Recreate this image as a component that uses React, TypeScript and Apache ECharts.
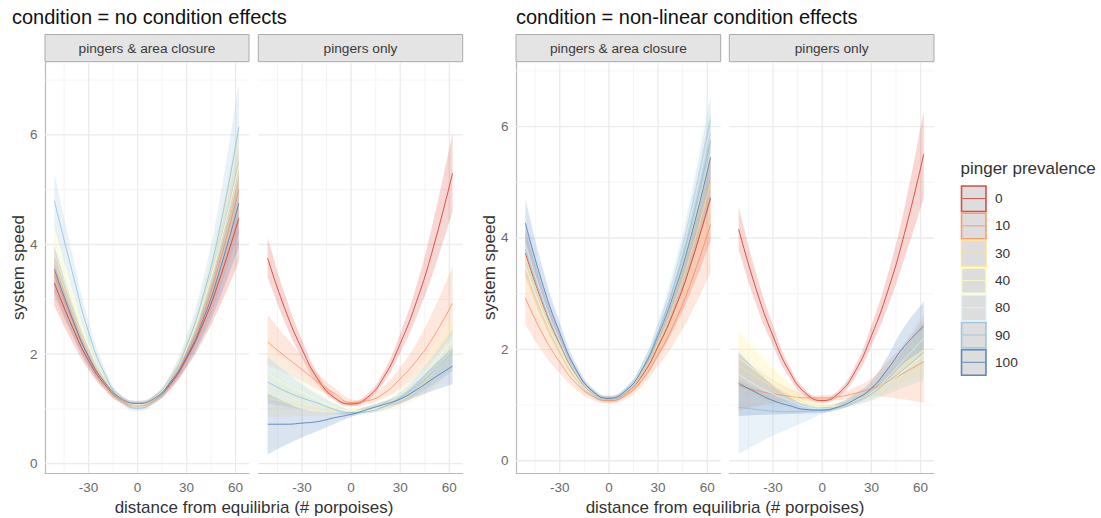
import React, { useEffect, useRef } from "react";
import * as echarts from "echarts";

// distance from equilibria at which each fitted curve is sampled
const distance = [-51, -40, -30, -20, -10, 0, 10, 20, 30, 40, 50, 62];
const prevalence = ["0", "10", "30", "40", "80", "90", "100"];
const prevalenceColors = ["#d73027", "#fc8d59", "#fee090", "#ffffbf", "#e0f3f8", "#91bfdb", "#4575b4"];
const xMajor = [-30, 0, 30, 60];
const xMinor = [-45, -15, 15, 45];
const yMajor = [0, 2, 4, 6];
const yMinor = [1, 3, 5, 7];
const conditionTitles = ["condition = no condition effects", "condition = non-linear condition effects"];
const managementLabels = ["pingers & area closure", "pingers only"];

// no condition effects, pingers & area closure (rows follow prevalence)
const ncClosureFit = [
  [3.30, 2.50, 1.88, 1.44, 1.17, 1.08, 1.17, 1.45, 1.92, 2.55, 3.35, 4.48],
  [3.45, 2.62, 1.95, 1.46, 1.16, 1.06, 1.16, 1.48, 2.00, 2.70, 3.65, 5.00],
  [3.70, 2.80, 2.05, 1.50, 1.17, 1.06, 1.17, 1.51, 2.08, 2.85, 3.85, 5.30],
  [4.05, 3.00, 2.15, 1.56, 1.20, 1.08, 1.20, 1.54, 2.12, 2.92, 3.95, 5.45],
  [3.85, 2.90, 2.12, 1.54, 1.20, 1.08, 1.19, 1.53, 2.10, 2.90, 3.95, 5.40],
  [4.80, 3.50, 2.40, 1.63, 1.16, 1.01, 1.14, 1.52, 2.15, 3.05, 4.25, 6.15],
  [3.55, 2.65, 1.95, 1.48, 1.19, 1.10, 1.19, 1.48, 1.95, 2.62, 3.50, 4.75],
];
const ncClosureLo = [
  [2.88, 2.22, 1.71, 1.34, 1.11, 1.03, 1.11, 1.35, 1.75, 2.25, 2.85, 3.68],
  [3.03, 2.34, 1.78, 1.36, 1.10, 1.01, 1.10, 1.38, 1.83, 2.40, 3.15, 4.20],
  [3.28, 2.52, 1.88, 1.40, 1.11, 1.01, 1.11, 1.41, 1.91, 2.55, 3.35, 4.50],
  [3.63, 2.72, 1.98, 1.46, 1.14, 1.03, 1.14, 1.44, 1.95, 2.62, 3.45, 4.65],
  [3.43, 2.62, 1.95, 1.44, 1.14, 1.03, 1.13, 1.43, 1.93, 2.60, 3.45, 4.60],
  [4.30, 3.17, 2.20, 1.52, 1.10, 0.96, 1.08, 1.41, 1.97, 2.74, 3.73, 5.35],
  [3.13, 2.37, 1.78, 1.38, 1.13, 1.05, 1.13, 1.38, 1.78, 2.32, 3.00, 3.95],
];
const ncClosureHi = [
  [3.72, 2.78, 2.05, 1.54, 1.23, 1.13, 1.23, 1.55, 2.09, 2.85, 3.85, 5.28],
  [3.87, 2.90, 2.12, 1.56, 1.22, 1.11, 1.22, 1.58, 2.17, 3.00, 4.15, 5.80],
  [4.12, 3.08, 2.22, 1.60, 1.23, 1.11, 1.23, 1.61, 2.25, 3.15, 4.35, 6.10],
  [4.47, 3.28, 2.32, 1.66, 1.26, 1.13, 1.26, 1.64, 2.29, 3.22, 4.45, 6.25],
  [4.27, 3.18, 2.29, 1.64, 1.26, 1.13, 1.25, 1.63, 2.27, 3.20, 4.45, 6.20],
  [5.30, 3.83, 2.60, 1.74, 1.22, 1.06, 1.20, 1.63, 2.33, 3.36, 4.77, 6.95],
  [3.97, 2.93, 2.12, 1.58, 1.25, 1.15, 1.25, 1.58, 2.12, 2.92, 4.00, 5.55],
];

// no condition effects, pingers only
const ncOnlyFit = [
  [3.75, 2.79, 2.09, 1.53, 1.20, 1.09, 1.21, 1.58, 2.19, 2.96, 3.92, 5.30],
  [2.22, 1.95, 1.72, 1.48, 1.28, 1.12, 1.15, 1.28, 1.55, 1.88, 2.30, 2.93],
  [1.20, 1.12, 1.06, 1.00, 0.96, 0.95, 0.97, 1.03, 1.15, 1.35, 1.65, 2.10],
  [1.65, 1.45, 1.30, 1.16, 1.03, 0.97, 0.99, 1.08, 1.25, 1.50, 1.82, 2.25],
  [1.60, 1.42, 1.28, 1.14, 1.01, 0.95, 0.97, 1.06, 1.20, 1.42, 1.70, 2.05],
  [1.49, 1.32, 1.20, 1.10, 0.99, 0.93, 0.95, 1.04, 1.20, 1.42, 1.68, 2.05],
  [0.72, 0.72, 0.74, 0.77, 0.84, 0.90, 0.99, 1.08, 1.18, 1.35, 1.55, 1.78],
];
const ncOnlyLo = [
  [3.40, 2.55, 1.93, 1.44, 1.15, 1.05, 1.16, 1.48, 2.02, 2.68, 3.48, 4.60],
  [1.80, 1.65, 1.50, 1.35, 1.19, 1.06, 1.09, 1.20, 1.36, 1.60, 1.90, 2.35],
  [0.85, 0.86, 0.87, 0.88, 0.89, 0.90, 0.92, 0.96, 1.04, 1.18, 1.38, 1.70],
  [1.20, 1.12, 1.06, 1.00, 0.95, 0.92, 0.95, 1.00, 1.12, 1.30, 1.52, 1.85],
  [1.15, 1.08, 1.03, 0.98, 0.93, 0.90, 0.93, 0.98, 1.08, 1.24, 1.44, 1.70],
  [1.10, 1.04, 0.99, 0.95, 0.91, 0.88, 0.91, 0.98, 1.10, 1.26, 1.44, 1.70],
  [0.17, 0.34, 0.48, 0.60, 0.73, 0.85, 0.95, 1.03, 1.10, 1.22, 1.33, 1.45],
];
const ncOnlyHi = [
  [4.12, 3.05, 2.26, 1.63, 1.26, 1.13, 1.27, 1.68, 2.37, 3.25, 4.40, 6.02],
  [2.72, 2.32, 1.97, 1.63, 1.38, 1.18, 1.22, 1.42, 1.76, 2.20, 2.78, 3.60],
  [1.70, 1.48, 1.30, 1.16, 1.05, 1.00, 1.03, 1.12, 1.28, 1.55, 1.98, 2.60],
  [2.15, 1.85, 1.60, 1.36, 1.15, 1.02, 1.05, 1.18, 1.40, 1.72, 2.15, 2.70],
  [2.10, 1.82, 1.57, 1.33, 1.12, 1.00, 1.03, 1.15, 1.34, 1.62, 1.98, 2.45],
  [1.95, 1.68, 1.45, 1.26, 1.10, 0.98, 1.01, 1.12, 1.31, 1.60, 1.96, 2.45],
  [1.28, 1.12, 1.00, 0.95, 0.93, 0.96, 1.05, 1.14, 1.26, 1.50, 1.78, 2.12],
];

// non-linear condition effects, pingers & area closure
const nlClosureFit = [
  [3.73, 2.78, 2.09, 1.54, 1.21, 1.10, 1.21, 1.52, 2.05, 2.71, 3.53, 4.72],
  [2.92, 2.25, 1.77, 1.39, 1.16, 1.08, 1.17, 1.44, 1.90, 2.48, 3.20, 4.24],
  [3.67, 2.74, 2.06, 1.53, 1.21, 1.10, 1.21, 1.55, 2.12, 2.83, 3.72, 5.00],
  [3.50, 2.63, 2.00, 1.50, 1.20, 1.10, 1.23, 1.61, 2.25, 3.05, 4.06, 5.50],
  [3.90, 2.89, 2.15, 1.57, 1.22, 1.10, 1.24, 1.67, 2.38, 3.28, 4.39, 6.00],
  [3.80, 2.82, 2.11, 1.55, 1.21, 1.10, 1.23, 1.64, 2.31, 3.16, 4.22, 5.75],
  [4.27, 3.13, 2.30, 1.64, 1.25, 1.12, 1.25, 1.62, 2.25, 3.04, 4.03, 5.45],
];
const nlClosureLo = [
  [3.31, 2.50, 1.91, 1.44, 1.15, 1.05, 1.15, 1.42, 1.87, 2.39, 3.03, 3.94],
  [2.44, 1.93, 1.57, 1.28, 1.09, 1.03, 1.10, 1.33, 1.70, 2.12, 2.64, 3.38],
  [3.25, 2.46, 1.88, 1.43, 1.15, 1.05, 1.15, 1.45, 1.94, 2.51, 3.22, 4.22],
  [3.08, 2.35, 1.82, 1.40, 1.14, 1.05, 1.17, 1.51, 2.07, 2.73, 3.56, 4.72],
  [3.48, 2.61, 1.97, 1.47, 1.16, 1.05, 1.18, 1.57, 2.20, 2.96, 3.89, 5.22],
  [3.38, 2.54, 1.93, 1.45, 1.15, 1.05, 1.17, 1.54, 2.13, 2.84, 3.72, 4.97],
  [3.85, 2.85, 2.12, 1.54, 1.19, 1.07, 1.19, 1.52, 2.07, 2.72, 3.53, 4.67],
];
const nlClosureHi = [
  [4.15, 3.06, 2.27, 1.64, 1.27, 1.15, 1.27, 1.62, 2.23, 3.03, 4.03, 5.50],
  [3.40, 2.57, 1.97, 1.50, 1.23, 1.13, 1.24, 1.55, 2.10, 2.84, 3.76, 5.10],
  [4.09, 3.02, 2.24, 1.63, 1.27, 1.15, 1.27, 1.65, 2.30, 3.15, 4.22, 5.78],
  [3.92, 2.91, 2.18, 1.60, 1.26, 1.15, 1.29, 1.71, 2.43, 3.37, 4.56, 6.28],
  [4.32, 3.17, 2.33, 1.67, 1.28, 1.15, 1.30, 1.77, 2.56, 3.60, 4.89, 6.83],
  [4.22, 3.10, 2.29, 1.65, 1.27, 1.15, 1.29, 1.74, 2.49, 3.48, 4.72, 6.53],
  [4.69, 3.41, 2.48, 1.74, 1.31, 1.17, 1.31, 1.72, 2.43, 3.36, 4.53, 6.23],
];

// non-linear condition effects, pingers only
const nlOnlyFit = [
  [4.16, 3.05, 2.24, 1.60, 1.21, 1.08, 1.21, 1.60, 2.24, 3.05, 4.06, 5.51],
  [1.35, 1.26, 1.20, 1.16, 1.13, 1.13, 1.15, 1.21, 1.30, 1.42, 1.58, 1.78],
  [1.72, 1.50, 1.33, 1.18, 1.04, 0.99, 1.00, 1.08, 1.22, 1.45, 1.70, 2.00],
  [1.85, 1.60, 1.40, 1.22, 1.05, 0.98, 0.98, 1.06, 1.20, 1.40, 1.62, 1.90],
  [1.55, 1.35, 1.20, 1.08, 0.97, 0.93, 0.97, 1.07, 1.22, 1.50, 1.82, 2.20],
  [0.96, 0.92, 0.89, 0.88, 0.89, 0.91, 0.96, 1.06, 1.20, 1.42, 1.65, 1.95],
  [1.39, 1.22, 1.08, 0.99, 0.92, 0.91, 0.97, 1.10, 1.30, 1.65, 2.05, 2.42],
];
const nlOnlyLo = [
  [3.78, 2.78, 2.06, 1.49, 1.15, 1.04, 1.15, 1.49, 2.06, 2.76, 3.62, 4.72],
  [0.90, 0.98, 1.03, 1.06, 1.07, 1.08, 1.09, 1.12, 1.15, 1.14, 1.10, 1.04],
  [1.22, 1.14, 1.08, 1.03, 0.98, 0.94, 0.95, 1.00, 1.10, 1.25, 1.40, 1.55],
  [1.35, 1.25, 1.15, 1.07, 0.99, 0.93, 0.94, 1.00, 1.08, 1.20, 1.32, 1.45],
  [1.12, 1.04, 0.98, 0.94, 0.90, 0.88, 0.92, 1.00, 1.10, 1.30, 1.52, 1.78],
  [0.12, 0.30, 0.45, 0.58, 0.71, 0.84, 0.92, 1.00, 1.08, 1.20, 1.32, 1.45],
  [0.80, 0.82, 0.83, 0.84, 0.85, 0.86, 0.92, 1.03, 1.18, 1.45, 1.75, 2.00],
];
const nlOnlyHi = [
  [4.55, 3.33, 2.43, 1.70, 1.27, 1.12, 1.27, 1.70, 2.43, 3.35, 4.52, 6.28],
  [1.90, 1.65, 1.45, 1.30, 1.20, 1.18, 1.22, 1.32, 1.48, 1.78, 2.10, 2.60],
  [2.30, 1.95, 1.65, 1.38, 1.12, 1.04, 1.06, 1.17, 1.36, 1.68, 2.05, 2.50],
  [2.42, 2.05, 1.72, 1.43, 1.14, 1.03, 1.04, 1.14, 1.34, 1.62, 1.95, 2.40],
  [2.05, 1.72, 1.46, 1.23, 1.06, 0.98, 1.03, 1.15, 1.36, 1.72, 2.15, 2.70],
  [1.45, 1.30, 1.18, 1.08, 1.02, 0.98, 1.03, 1.14, 1.32, 1.65, 2.00, 2.50],
  [1.95, 1.62, 1.35, 1.15, 1.00, 0.96, 1.04, 1.20, 1.43, 1.88, 2.40, 2.86],
];

const FONT = '"Liberation Sans", Arial, Helvetica, sans-serif';
const PANEL_TOP = 62;
const PANEL_HEIGHT = 411;
const X_RANGE = [-56.7, 68.2];
const Y_RANGES = [
  [-0.17, 7.33],
  [-0.22, 7.16],
];

type Panel = {
  left: number;
  width: number;
  cond: number;
  strip: number;
  first: boolean;
  fit: number[][];
  lo: number[][];
  hi: number[][];
};

const panels: Panel[] = [
  { left: 45, width: 204, cond: 0, strip: 0, first: true, fit: ncClosureFit, lo: ncClosureLo, hi: ncClosureHi },
  { left: 258.3, width: 204.4, cond: 0, strip: 1, first: false, fit: ncOnlyFit, lo: ncOnlyLo, hi: ncOnlyHi },
  { left: 516, width: 204.7, cond: 1, strip: 0, first: true, fit: nlClosureFit, lo: nlClosureLo, hi: nlClosureHi },
  { left: 729.3, width: 204.7, cond: 1, strip: 1, first: false, fit: nlOnlyFit, lo: nlOnlyLo, hi: nlOnlyHi },
];

function rgba(hex: string, a: number): string {
  const n = parseInt(hex.slice(1), 16);
  return `rgba(${(n >> 16) & 255},${(n >> 8) & 255},${n & 255},${a})`;
}

// Bezier segments through pixel points, same control-point rule as a smoothed line series.
function curvePath(pts: number[][], start: "M" | "L", s = 0.5): string {
  const n = pts.length;
  const cps = pts.map((p, i) => {
    const prev = pts[Math.max(i - 1, 0)];
    const next = pts[Math.min(i + 1, n - 1)];
    const vx = next[0] - prev[0];
    const vy = next[1] - prev[1];
    const d0 = Math.hypot(p[0] - prev[0], p[1] - prev[1]);
    const d1 = Math.hypot(next[0] - p[0], next[1] - p[1]);
    const sum = d0 + d1 || 1;
    return {
      inX: p[0] - (vx * s * d0) / sum,
      inY: p[1] - (vy * s * d0) / sum,
      outX: p[0] + (vx * s * d1) / sum,
      outY: p[1] + (vy * s * d1) / sum,
    };
  });
  let d = `${start}${pts[0][0]},${pts[0][1]}`;
  for (let i = 0; i < n - 1; i++) {
    d += ` C${cps[i].outX},${cps[i].outY} ${cps[i + 1].inX},${cps[i + 1].inY} ${pts[i + 1][0]},${pts[i + 1][1]}`;
  }
  return d;
}

function buildOption() {
  const grid: any[] = [];
  const xAxis: any[] = [];
  const yAxis: any[] = [];
  const series: any[] = [];
  const graphic: any[] = [];

  const labelStyle = { color: "#6b6b6b", fontSize: 13.5, fontFamily: FONT };
  const axisLineStyle = { color: "#b9b9b9", width: 1.2 };

  panels.forEach((p, g) => {
    const [yMin, yMax] = Y_RANGES[p.cond];
    grid.push({ left: p.left, top: PANEL_TOP, width: p.width, height: PANEL_HEIGHT, containLabel: false });
    xAxis.push({
      gridIndex: g,
      type: "value",
      min: X_RANGE[0],
      max: X_RANGE[1],
      axisLine: { show: true, onZero: false, lineStyle: axisLineStyle },
      axisTick: { show: false },
      splitLine: { show: false },
      axisLabel: { ...labelStyle, margin: 7, customValues: xMajor },
    });
    yAxis.push({
      gridIndex: g,
      type: "value",
      min: yMin,
      max: yMax,
      axisLine: { show: p.first, onZero: false, lineStyle: axisLineStyle },
      axisTick: { show: false },
      splitLine: { show: false },
      axisLabel: { ...labelStyle, show: p.first, margin: 7.5, customValues: yMajor },
    });

    // panel grid: minor lines first, then major lines
    const gridLine = (data: number[][], color: string, width: number) => ({
      type: "line",
      xAxisIndex: g,
      yAxisIndex: g,
      data,
      symbol: "none",
      silent: true,
      z: 1,
      lineStyle: { color, width },
    });
    xMinor.forEach((v) => series.push(gridLine([[v, yMin], [v, yMax]], "#f3f3f3", 0.8)));
    yMinor.forEach((v) => series.push(gridLine([[X_RANGE[0], v], [X_RANGE[1], v]], "#f3f3f3", 0.8)));
    xMajor.forEach((v) => series.push(gridLine([[v, yMin], [v, yMax]], "#ebebeb", 1.3)));
    yMajor.forEach((v) => series.push(gridLine([[X_RANGE[0], v], [X_RANGE[1], v]], "#ebebeb", 1.3)));

    // confidence ribbon and fitted curve for each prevalence level
    prevalence.forEach((level, i) => {
      const color = prevalenceColors[i];
      const lo = p.lo[i];
      const hi = p.hi[i];
      series.push({
        type: "custom",
        name: level,
        xAxisIndex: g,
        yAxisIndex: g,
        silent: true,
        z: 2,
        data: distance.map((x, k) => [x, lo[k], hi[k]]),
        encode: { x: 0, y: [1, 2] },
        renderItem: (params: any, api: any) => {
          if (params.dataIndex !== 0) return null;
          const upper = distance.map((x, k) => api.coord([x, hi[k]]));
          const lower = distance.map((x, k) => api.coord([x, lo[k]])).reverse();
          const d = curvePath(upper, "M") + " " + curvePath(lower, "L") + " Z";
          return { type: "path", shape: { pathData: d }, style: { fill: rgba(color, 0.2), stroke: "none" } };
        },
      });
      series.push({
        type: "line",
        name: level,
        xAxisIndex: g,
        yAxisIndex: g,
        data: distance.map((x, k) => [x, p.fit[i][k]]),
        smooth: true,
        symbol: "none",
        silent: true,
        z: 2,
        lineStyle: { color, width: 0.8 },
      });
    });

    // facet strip
    graphic.push({
      type: "rect",
      shape: { x: p.left, y: 34.5, width: p.width, height: 27.2 },
      style: { fill: "#e4e4e4", stroke: "#ababab", lineWidth: 1 },
      silent: true,
    });
    graphic.push({
      type: "text",
      x: p.left + p.width / 2,
      y: 48.5,
      style: {
        text: managementLabels[p.strip],
        fill: "#3a3a3a",
        fontSize: 13.7,
        fontFamily: FONT,
        align: "center",
        verticalAlign: "middle",
        textAlign: "center",
        textVerticalAlign: "middle",
      },
      silent: true,
    });
  });

  // plot titles and axis titles
  const textEl = (x: number, y: number, text: string, size: number, fill: string, align: string, rotation = 0) => ({
    type: "text",
    x,
    y,
    rotation,
    silent: true,
    style: {
      text,
      fill,
      fontSize: size,
      fontFamily: FONT,
      align,
      verticalAlign: "middle",
      textAlign: align,
      textVerticalAlign: "middle",
    },
  });
  graphic.push(textEl(12, 17, conditionTitles[0], 20, "#111111", "left"));
  graphic.push(textEl(516, 17, conditionTitles[1], 20, "#111111", "left"));
  graphic.push(textEl(18.5, PANEL_TOP + PANEL_HEIGHT / 2, "system speed", 17, "#333333", "center", Math.PI / 2));
  graphic.push(textEl(489.5, PANEL_TOP + PANEL_HEIGHT / 2, "system speed", 17, "#333333", "center", Math.PI / 2));
  graphic.push(textEl(254, 507, "distance from equilibria (# porpoises)", 17, "#333333", "center"));
  graphic.push(textEl(725, 507, "distance from equilibria (# porpoises)", 17, "#333333", "center"));

  // legend
  graphic.push(textEl(960.5, 168.5, "pinger prevalence", 17, "#333333", "left"));
  prevalence.forEach((level, i) => {
    const top = 185.5 + i * 27.3;
    const cy = top + 13;
    graphic.push({
      type: "rect",
      silent: true,
      shape: { x: 961.5, y: top + 0.5, width: 24.5, height: 25.5 },
      style: { fill: "#dddddd", stroke: rgba(prevalenceColors[i], 0.85), lineWidth: 1.6 },
    });
    graphic.push({
      type: "line",
      silent: true,
      shape: { x1: 962.5, y1: cy, x2: 985, y2: cy },
      style: { stroke: prevalenceColors[i], lineWidth: 0.8 },
    });
    graphic.push(textEl(995, cy, level, 13.7, "#333333", "left"));
  });

  return {
    animation: false,
    backgroundColor: "#ffffff",
    grid,
    xAxis,
    yAxis,
    series,
    graphic: { elements: graphic },
  };
}

export default function App() {
  const ref = useRef<HTMLDivElement>(null);
  useEffect(() => {
    if (!ref.current) return;
    const chart = echarts.init(ref.current, undefined, { renderer: "svg" });
    chart.setOption(buildOption() as any);
    return () => chart.dispose();
  }, []);
  return (
    <div
      ref={ref}
      style={{ position: "fixed", left: 0, top: 0, width: 1101, height: 518, background: "#ffffff" }}
    />
  );
}
